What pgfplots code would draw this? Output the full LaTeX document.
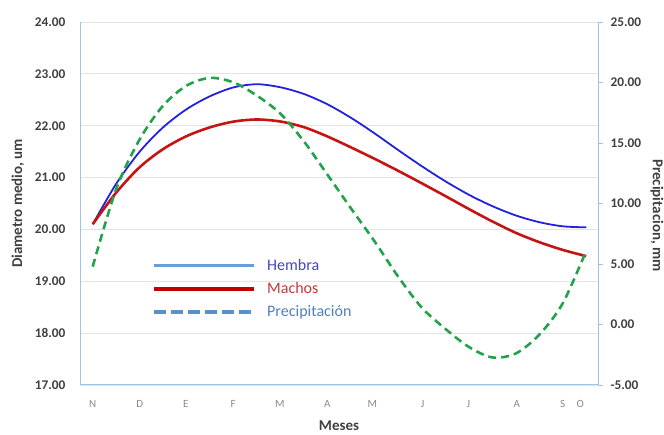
\documentclass[border=0pt]{standalone}
\usepackage{pgfplots}
\pgfplotsset{compat=1.18}
\usepackage{fontspec}
\setmainfont{Carlito}
\definecolor{axblue}{HTML}{9DC3E6}
\definecolor{gridc}{HTML}{E3E3E3}
\definecolor{hemc}{HTML}{2222DD}
\definecolor{macc}{HTML}{C41414}
\definecolor{prec}{HTML}{22A24A}
\definecolor{leghem}{HTML}{6A9ED6}
\definecolor{legmac}{HTML}{C00000}
\definecolor{legpre}{HTML}{5B8FC8}
\definecolor{hemtxt}{HTML}{4444C4}
\definecolor{mactxt}{HTML}{C43838}
\definecolor{pretxt}{HTML}{4F81BD}
\definecolor{lbl}{HTML}{404040}
\definecolor{xlbl}{HTML}{8A8A8A}

\pgfplotstableread{
x y
0 20.10
0.5 20.88
1.0 21.50
1.5 21.97
2.0 22.32
2.5 22.57
3.0 22.74
3.5 22.80
4.0 22.74
4.5 22.61
5.0 22.41
5.5 22.15
6.0 21.85
6.5 21.53
7.0 21.22
7.5 20.93
8.0 20.67
8.5 20.45
9.0 20.27
9.5 20.14
10.0 20.06
10.5 20.04
}\hembra
\pgfplotstableread{
x y
0 20.10
0.5 20.71
1.0 21.20
1.5 21.55
2.0 21.80
2.5 21.97
3.0 22.08
3.5 22.12
4.0 22.08
4.5 21.97
5.0 21.79
5.5 21.58
6.0 21.36
6.5 21.13
7.0 20.89
7.5 20.645
8.0 20.395
8.5 20.155
9.0 19.935
9.5 19.755
10.0 19.605
10.5 19.485
}\machos
\pgfplotstableread{
x y
0 4.78
0.5 11.2
1.0 15.3
1.5 18.1
2.0 19.75
2.5 20.38
3.0 20.0
3.5 18.9
4.0 17.4
4.5 15.1
5.0 12.35
5.5 9.57
6.0 6.85
6.5 3.95
7.0 1.4
7.5 -0.35
8.0 -1.85
8.5 -2.72
9.0 -2.4
9.5 -0.85
10.0 1.75
10.5 6.1
}\precip

\begin{document}
\begin{tikzpicture}[x=1pt,y=1pt]
\useasboundingbox (0,0) rectangle (664,434);
\begin{axis}[
  at={(80pt,49pt)}, anchor=south west,
  scale only axis, width=518pt, height=363pt,
  xmin=-0.27, xmax=10.75, ymin=17, ymax=24,
  axis x line*=bottom, axis y line*=left,
  axis line style={draw=axblue, line width=1pt},
  ytick={17,18,...,24},
  xtick={0,1,1.98,2.99,3.98,4.99,5.95,7.02,7.99,9.02,10.0,10.37},
  xticklabels={N,D,E,F,M,A,M,J,J,A,S,O},
  major tick length=0pt,
  ymajorgrids, grid style={draw=gridc, line width=0.8pt},
  /pgf/number format/.cd, fixed, zerofill, precision=2, assume math mode=true,
  /pgfplots/.cd,
  yticklabel style={font=\fontsize{13.3}{15}\selectfont\bfseries, text=lbl, xshift=-11pt},
  xticklabel style={font=\fontsize{11}{13}\selectfont, text=xlbl, yshift=-12pt},
  xlabel={Meses},
  xlabel style={font=\fontsize{15}{17}\selectfont\bfseries, text=lbl, at={(axis description cs:0.5,0)}, anchor=center, yshift=-41pt},
  ylabel={Diametro medio, um},
  ylabel style={font=\fontsize{15}{17}\selectfont\bfseries, text=lbl, at={(axis description cs:-0.1197,0.5)}, anchor=center},
  legend image code/.code={\draw[#1] (0pt,0pt) -- (100pt,0pt);},
  legend cell align=left,
  legend style={at={(axis description cs:0.14,0.352)}, anchor=north west, draw=none, fill=none,
    font=\fontsize{16}{18}\selectfont, inner sep=0pt, row sep=6.5pt,
    nodes={inner sep=2pt},
    /tikz/every odd column/.append style={column sep=9pt}},
]
\addlegendimage{draw=leghem, line width=3.5pt}
\addlegendentry{\textcolor{hemtxt}{Hembra}}
\addlegendimage{draw=legmac, line width=3.5pt}
\addlegendentry{\textcolor{mactxt}{Machos}}
\addlegendimage{draw=legpre, line width=3.5pt, dash pattern=on 12pt off 5pt}
\addlegendentry{\textcolor{pretxt}{Precipitación}}
\addplot[forget plot, draw=hemc, line width=1.8pt, smooth] table[x=x,y=y] {\hembra};
\addplot[forget plot, draw=macc, line width=2.6pt, smooth] table[x=x,y=y] {\machos};
\end{axis}
\begin{axis}[
  at={(80pt,49pt)}, anchor=south west,
  scale only axis, width=518pt, height=363pt,
  xmin=-0.27, xmax=10.75, ymin=-5, ymax=25,
  axis x line=none, axis y line*=right,
  axis line style={draw=axblue, line width=1pt},
  ytick={-5,0,...,25},
  tick align=outside, major tick length=5pt,
  major tick style={draw=axblue, line width=0.8pt},
  /pgf/number format/.cd, fixed, zerofill, precision=2, assume math mode=true,
  /pgfplots/.cd,
  yticklabel style={font=\fontsize{13.3}{15}\selectfont\bfseries, text=lbl, xshift=4pt},
  ylabel={Precipitacion, mm},
  ylabel style={font=\fontsize{15}{17}\selectfont\bfseries, text=lbl, at={(axis description cs:1.1139,0.467)}, anchor=center, rotate=180},
]
\addplot[draw=prec, line width=2.6pt, dash pattern=on 8pt off 5pt, smooth] table[x=x,y=y] {\precip};
\end{axis}
\end{tikzpicture}
\end{document}
